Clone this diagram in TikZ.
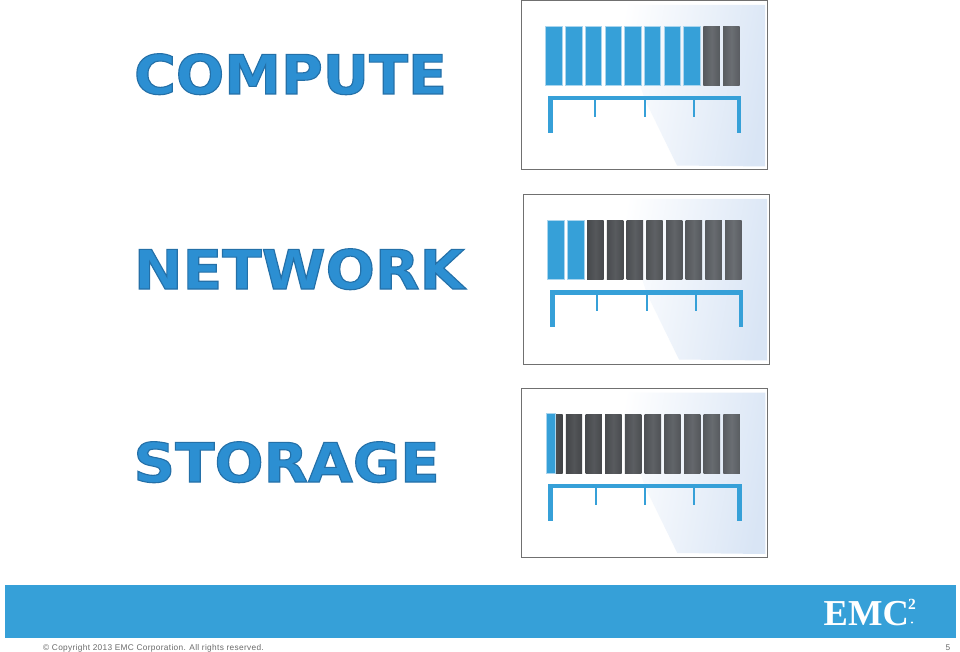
\documentclass[tikz,border=0pt]{standalone}
\usepackage{fontspec}
\usetikzlibrary{calc}
\setmainfont{Liberation Sans}
\newfontfamily\titlefont[Scale=1]{DejaVu Sans Bold}
\newfontfamily\logofont{Liberation Serif Bold}
\definecolor{emcblue}{HTML}{36A0D8}
\definecolor{titleblue}{HTML}{2C8FD2}
\definecolor{glowblue}{HTML}{A9D5EE}
\definecolor{tintblue}{HTML}{D9E5F5}
\definecolor{framegray}{HTML}{707070}
\definecolor{bardark}{HTML}{4A4C4F}
\definecolor{barlight}{HTML}{666A6F}
\definecolor{footgray}{HTML}{6A6A6A}
\tikzset{
  frameline/.style={draw=framegray,line width=1pt,fill=white},
  blueseg/.style={fill=emcblue},
  bluebar/.style={fill=emcblue,draw=glowblue,line width=0.8pt},
  titletext/.style={anchor=base west,inner sep=0pt,outer sep=0pt,text=titleblue,font=\titlefont\fontsize{54.4}{58}\selectfont},
  foot/.style={anchor=base west,inner sep=0pt,text=footgray,font=\fontsize{8.3}{10}\selectfont},
}
\newcommand{\outlined}[2]{\scalebox{#1}[1]{\special{pdf:code 2 Tr 1.1 w 0.14 0.44 0.66 RG}#2\special{pdf:code 0 Tr}}}
% dx dy number-of-blue-bars
\newcommand{\rackpanel}[3]{%
  \begin{scope}[shift={(#1,#2)}]
    \path[frameline] (521,1) rectangle (767.5,170);
    \path[left color=white,right color=tintblue,shading angle=80]
      (612,5) -- (765,5) -- (765,166.5) -- (677,165.5) -- (645,100) -- (640,85) -- cycle;
    \foreach \i in {0,...,9}{
      \pgfmathsetmacro{\xa}{545.8+19.7*\i}
      \pgfmathsetmacro{\xb}{\xa+16.4}
      \pgfmathsetmacro{\mixv}{100-\i*11}
      \ifnum\i<#3\relax
        \path[bluebar] (\xa,26.8) rectangle (\xb,85.6);
      \else
        \colorlet{thisbar}{bardark!\mixv!barlight}
        \path[left color=thisbar!88!black,right color=thisbar!88!black,middle color=thisbar!97!white]
          (\xa,26.8) rectangle (\xb,85.6);
      \fi
    }
    \path[blueseg] (548,96) rectangle (741.3,100.5);
    \path[blueseg] (548,100.5) rectangle (552.5,133);
    \path[blueseg] (736.8,100.5) rectangle (741.3,133);
    \path[blueseg] (594.2,100.5) rectangle (596.4,117.3);
    \path[blueseg] (643.6,100.5) rectangle (645.8,117.3);
    \path[blueseg] (692.6,100.5) rectangle (694.8,117.3);
  \end{scope}}
\begin{document}
\begin{tikzpicture}[x=1pt,y=-1pt]
  \useasboundingbox (0,0) rectangle (960,652);
  \fill[white] (0,0) rectangle (960,652);
  \node[titletext] (compute) at (134,94) {\outlined{1.048}{COMPUTE}};
  \node[titletext] (network) at (134,289) {\outlined{1.066}{NETWORK}};
  \node[titletext] (storage) at (133.5,482) {\outlined{1.062}{STORAGE}};
  \rackpanel{0}{0}{8}
  \rackpanel{2}{194}{2}
  \rackpanel{0.3}{387.5}{0}
  \path[bluebar] (545.9,413.5) rectangle (555,473.5);
  \path[fill=emcblue] (5,585) rectangle (956,638);
  \node[anchor=base west,inner sep=0pt,text=white,font=\logofont\fontsize{36.5}{40}\selectfont] (emc) at (823.5,625) {EMC};
  \node[anchor=base west,inner sep=0pt,text=white,font=\logofont\fontsize{15.5}{16}\selectfont] (two) at (908,609) {2};
  \fill[white] (912,622.5) circle (1.2);
  \node[foot] (copy) at (43,650.5) {\addfontfeature{LetterSpace=4}© Copyright 2013 EMC Corporation. All rights reserved.};
  \node[foot] (page) at (945.5,650.5) {5};
\end{tikzpicture}
\end{document}
